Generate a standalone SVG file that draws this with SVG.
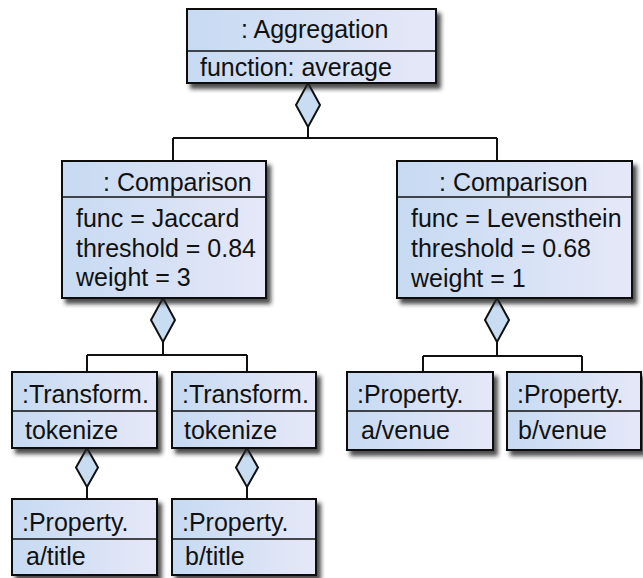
<svg xmlns="http://www.w3.org/2000/svg" width="643" height="578" viewBox="0 0 643 578">
  <style>
    .box { fill: url(#boxFill); stroke: #111; stroke-width: 2; }
    .sep { stroke: #111; stroke-width: 1.6; fill: none; }
    .wire { stroke: #111; stroke-width: 2; fill: none; }
    .dia { fill: #c8dcf2; stroke: #111; stroke-width: 2; }
    text { font-family: "Liberation Sans", Arial, sans-serif; font-size: 25px; fill: #111; }
  </style>
  <defs>
    <linearGradient id="boxFill" x1="0" y1="0" x2="1" y2="0">
      <stop offset="0" stop-color="#c6daf2"/>
      <stop offset="1" stop-color="#e6e8f8"/>
    </linearGradient>
    <filter id="shadow" x="-10%" y="-10%" width="130%" height="140%">
      <feDropShadow dx="4" dy="5" stdDeviation="2" flood-color="#222" flood-opacity="0.8"/>
    </filter>
  </defs>

  <!-- connectors: aggregation diamonds and tree lines -->
  <g id="connectors">
    <polygon class="dia" points="308,83 320,105 308,127 296,105"/>
    <path class="wire" d="M308,127 V138 M173,138 H497 M173,138 V161 M497,138 V161"/>

    <polygon class="dia" points="163,298 175,320 163,342 151,320"/>
    <path class="wire" d="M163,342 V355 M87,355 H247 M87,355 V372 M247,355 V372"/>

    <polygon class="dia" points="497,298 509,320 497,342 485,320"/>
    <path class="wire" d="M497,342 V356 M423,356 H582 M423,356 V372 M582,356 V372"/>

    <polygon class="dia" points="87,448 98,467.5 87,487 76,467.5"/>
    <path class="wire" d="M87,487 V499"/>

    <polygon class="dia" points="247,448 258,467.5 247,487 236,467.5"/>
    <path class="wire" d="M247,487 V499"/>
  </g>

  <g id="aggregation">
    <rect class="box" x="187" y="9" width="249" height="74" filter="url(#shadow)"/>
    <line class="sep" x1="187" y1="51" x2="436" y2="51"/>
    <text x="241" y="38">: Aggregation</text>
    <text x="200" y="76">function: average</text>
  </g>

  <g id="comparison-jaccard">
    <rect class="box" x="62" y="161" width="204" height="137" filter="url(#shadow)"/>
    <line class="sep" x1="62" y1="197" x2="266" y2="197"/>
    <text x="103" y="191">: Comparison</text>
    <text x="76" y="227">func = Jaccard</text>
    <text x="76" y="257">threshold = 0.84</text>
    <text x="76" y="286">weight = 3</text>
  </g>

  <g id="comparison-levenshtein">
    <rect class="box" x="397" y="161" width="235" height="137" filter="url(#shadow)"/>
    <line class="sep" x1="397" y1="197" x2="632" y2="197"/>
    <text x="439" y="191">: Comparison</text>
    <text x="411" y="227">func = Levensthein</text>
    <text x="411" y="257">threshold = 0.68</text>
    <text x="411" y="287">weight = 1</text>
  </g>

  <g id="transform-a">
    <rect class="box" x="12" y="372" width="145" height="76" filter="url(#shadow)"/>
    <line class="sep" x1="12" y1="411" x2="157" y2="411"/>
    <text x="22" y="403">:Transform.</text>
    <text x="25" y="439">tokenize</text>
  </g>

  <g id="transform-b">
    <rect class="box" x="172" y="372" width="144" height="76" filter="url(#shadow)"/>
    <line class="sep" x1="172" y1="411" x2="316" y2="411"/>
    <text x="182" y="403">:Transform.</text>
    <text x="184" y="439">tokenize</text>
  </g>

  <g id="property-a-venue">
    <rect class="box" x="347" y="372" width="146" height="78" filter="url(#shadow)"/>
    <line class="sep" x1="347" y1="411" x2="493" y2="411"/>
    <text x="357" y="403">:Property.</text>
    <text x="361" y="439">a/venue</text>
  </g>

  <g id="property-b-venue">
    <rect class="box" x="507" y="372" width="134" height="78" filter="url(#shadow)"/>
    <line class="sep" x1="507" y1="411" x2="641" y2="411"/>
    <text x="517" y="403">:Property.</text>
    <text x="518" y="439">b/venue</text>
  </g>

  <g id="property-a-title">
    <rect class="box" x="12" y="499" width="145" height="76" filter="url(#shadow)"/>
    <line class="sep" x1="12" y1="539" x2="157" y2="539"/>
    <text x="22" y="531">:Property.</text>
    <text x="26" y="565">a/title</text>
  </g>

  <g id="property-b-title">
    <rect class="box" x="172" y="499" width="144" height="76" filter="url(#shadow)"/>
    <line class="sep" x1="172" y1="539" x2="316" y2="539"/>
    <text x="182" y="531">:Property.</text>
    <text x="185" y="565">b/title</text>
  </g>
</svg>
